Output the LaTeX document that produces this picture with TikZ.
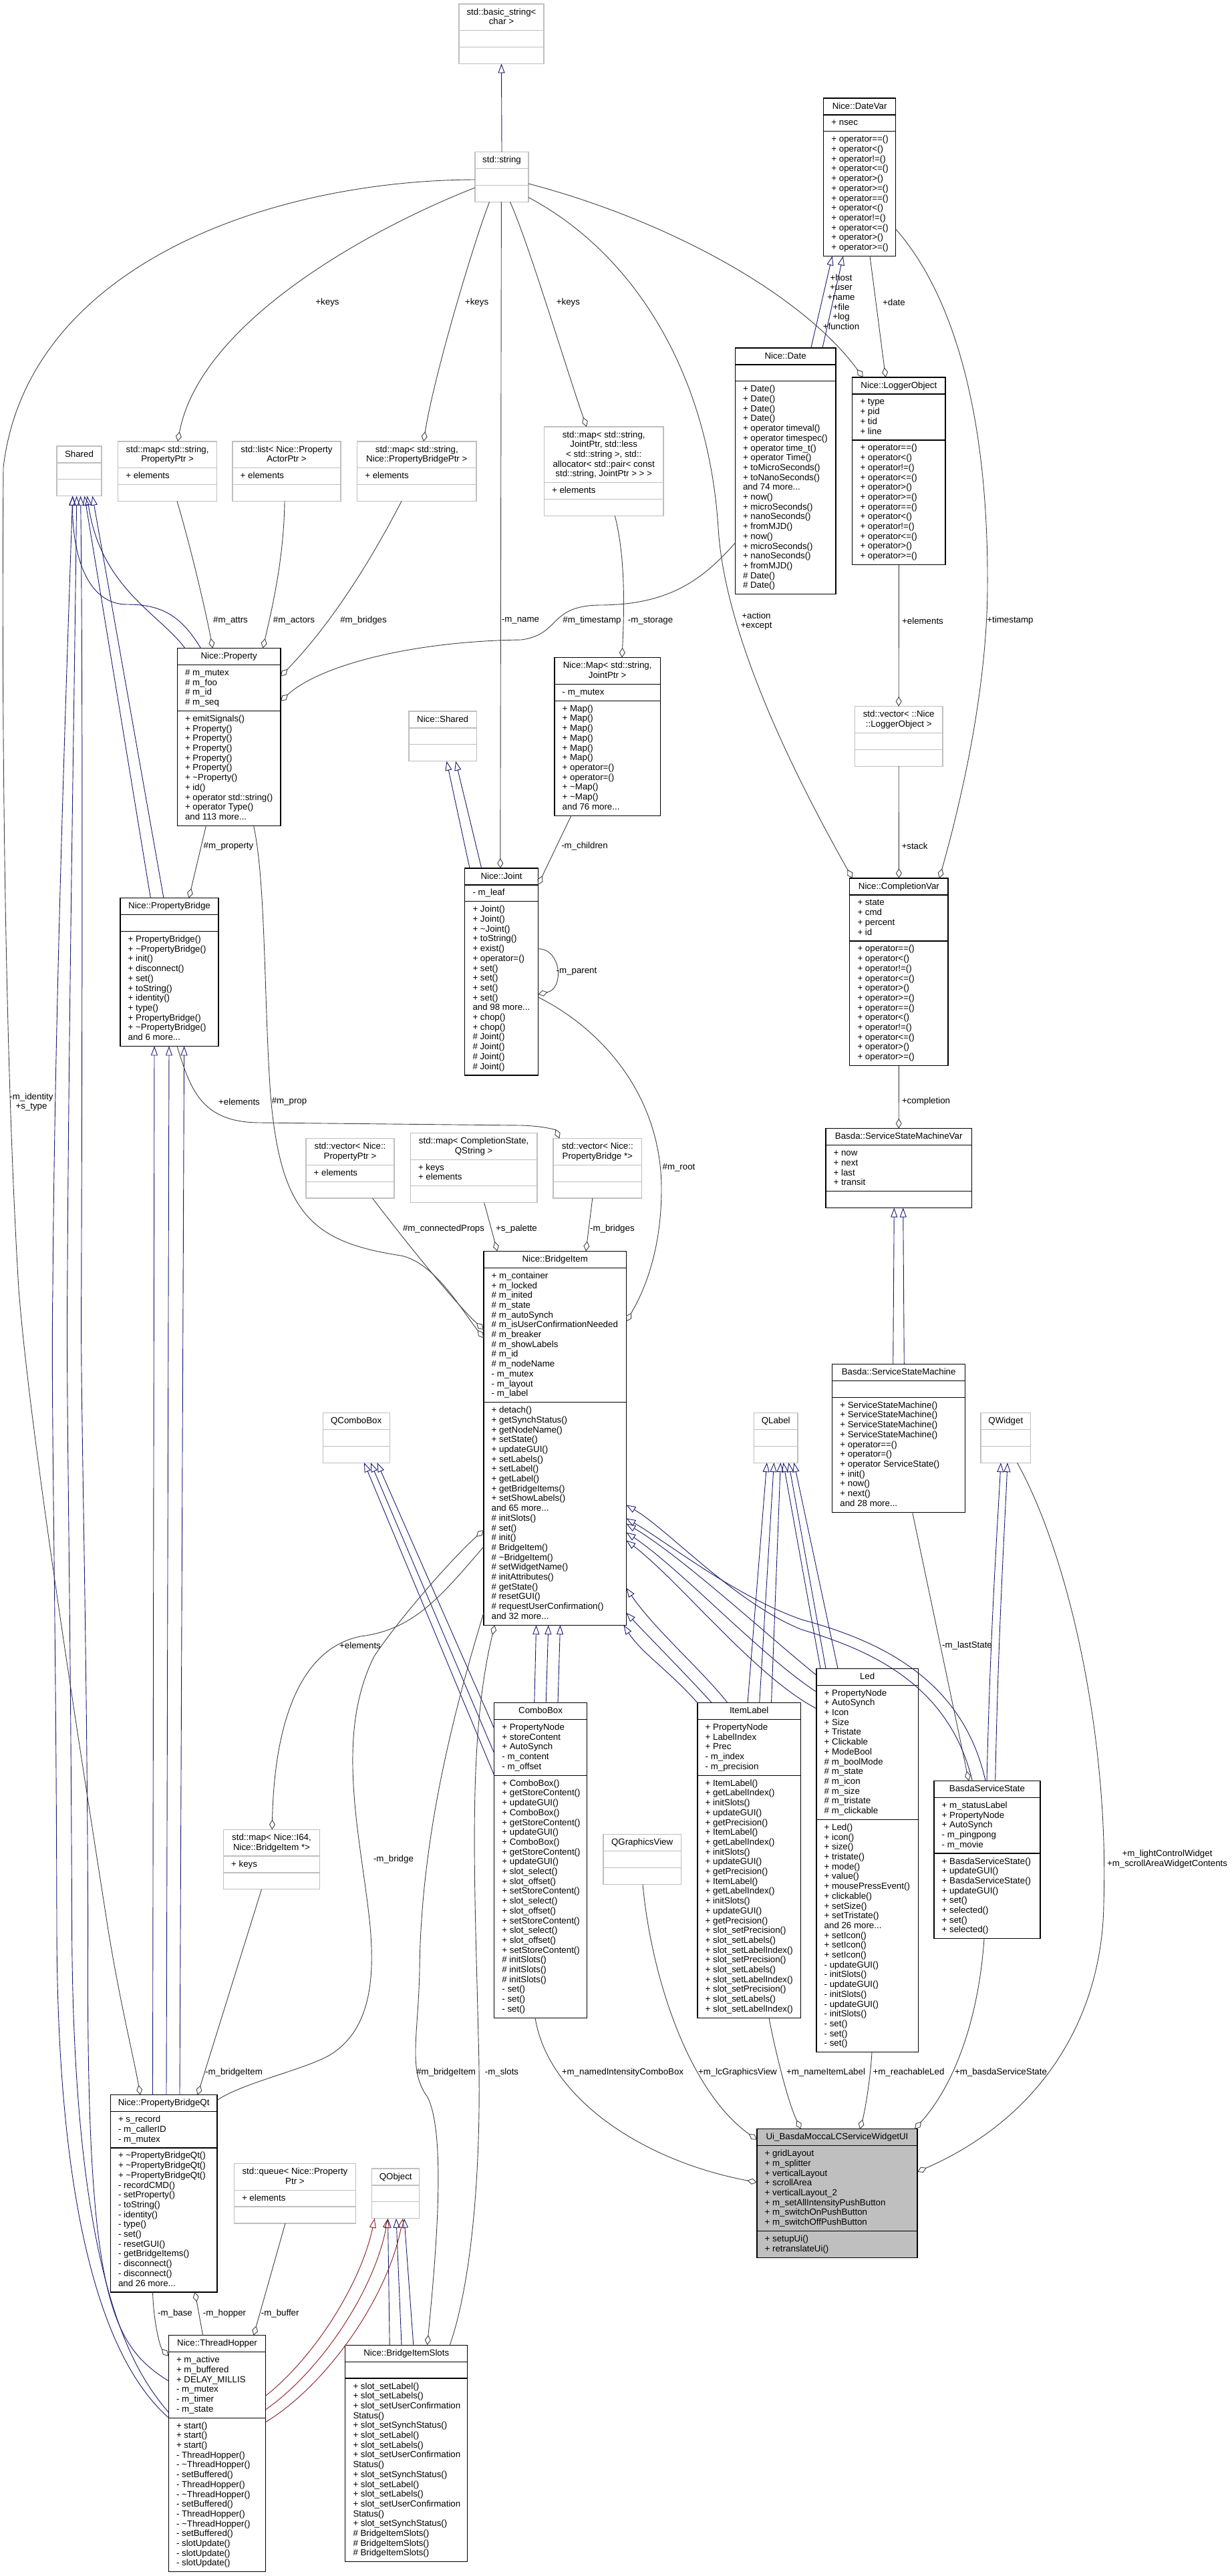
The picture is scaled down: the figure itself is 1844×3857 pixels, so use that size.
\documentclass[tikz,border=0pt]{standalone}
\usepackage{fontspec}
\setmainfont{Liberation Sans}
\usetikzlibrary{arrows.meta,calc}
\definecolor{navy}{HTML}{191970}
\definecolor{ugray}{HTML}{404040}
\definecolor{boxgray}{HTML}{BFBFBF}
\definecolor{pred}{HTML}{8B1A1A}
\newcommand\fs{\fontsize{13.3}{14.7}\selectfont}
\newcommand\tld{\textasciitilde}
\newcommand\mdots{...}
\def\getthree#1,#2,#3\relax{\def\cxa{#1}\def\cya{#2}\def\cxb{#3}}
\def\getcnt#1,#2,#3\relax{\def\cnt{#1}\def\cna{#2}\def\cnm{#3}}
\newcommand\clsbox[7]{%
  \getthree#3\relax\getcnt#4\relax
  \pgfmathsetmacro\cyA{\cya+14.7*\cnt+10.2}%
  \pgfmathsetmacro\cyM{\cyA+14.7*max(\cna,1)+10.2}%
  \pgfmathsetmacro\cyB{\cyM+14.7*max(\cnm,1)+10.2}%
  \pgfmathsetmacro\cbw{\cxb-\cxa}%
  \pgfmathsetmacro\cbh{\cyB-\cya}%
  \pgfmathsetmacro\cxc{(\cxa+\cxb)/2}%
  \pgfmathsetmacro\cxt{\cxa+11.5}%
  \node[#2,minimum width=\cbw pt,minimum height=\cbh pt,anchor=north west] (#1) at (\cxa,\cya) {};
  \draw[#2 sep] (\cxa,\cyA) -- (\cxb,\cyA) (\cxa,\cyM) -- (\cxb,\cyM);
  \foreach \tx [count=\k] in {#5} {\node[txt,anchor=base] at (\cxc,{\cya+16+14.7*(\k-1)}) {\tx};}
  \foreach \tx [count=\k] in {#6} {\node[txt,anchor=base west] at (\cxt,{\cyA+16+14.7*(\k-1)}) {\tx};}
  \foreach \tx [count=\k] in {#7} {\node[txt,anchor=base west] at (\cxt,{\cyM+16+14.7*(\k-1)}) {\tx};}
}
\tikzset{
  txt/.style={inner sep=0pt,font=\fs},
  lbl/.style={inner sep=0pt,font=\fs},
  gbox/.style={draw=boxgray,line width=1.2pt,fill=white,inner sep=0pt,outer sep=0pt},
  bbox/.style={draw=black,line width=1.2pt,fill=white,inner sep=0pt,outer sep=0pt},
  ubox/.style={draw=black,line width=1.2pt,fill=boxgray,inner sep=0pt,outer sep=0pt},
  gbox sep/.style={draw=boxgray,line width=1.2pt},
  bbox sep/.style={draw=black,line width=1.2pt},
  ubox sep/.style={draw=black,line width=1.2pt},
  inh/.style={draw=navy,line width=0.9pt,-{Triangle[open,length=14pt,width=10pt]}},
  pinh/.style={draw=pred,line width=0.9pt,-{Triangle[open,length=14pt,width=10pt]}},
  use/.style={draw=ugray,line width=0.9pt,-{Diamond[open,length=15pt,width=9pt]}}
}
\catcode`\_=12
\begin{document}
\begin{tikzpicture}[x=1pt,y=-1pt]
\fill[white] (0,0) rectangle (1844,3857);
\useasboundingbox (0,0) rectangle (1844,3857);

% ---------------- classes ----------------
\clsbox{bstr}{gbox}{687,6,814}{2,0,0}{{std::basic_string<},{char >}}{}{}
\clsbox{str}{gbox}{711,227.6,791}{1,0,0}{std::string}{}{}
\clsbox{datevar}{bbox}{1232.7,147,1340.6}{1,1,12}{Nice::DateVar}{+ nsec}{+ operator==(),+ operator<(),+ operator!=(),+ operator<=(),+ operator>(),+ operator>=(),+ operator==(),+ operator<(),+ operator!=(),+ operator<=(),+ operator>(),+ operator>=()}
\clsbox{date}{bbox}{1100.3,521,1251}{1,0,21}{Nice::Date}{}{+ Date(),+ Date(),+ Date(),+ Date(),+ operator timeval(),+ operator timespec(),+ operator time_t(),+ operator Time(),+ toMicroSeconds(),+ toNanoSeconds(),and 74 more\mdots,+ now(),+ microSeconds(),+ nanoSeconds(),+ fromMJD(),+ now(),+ microSeconds(),+ nanoSeconds(),+ fromMJD(),\# Date(),\# Date()}
\clsbox{logobj}{bbox}{1275.8,565,1415}{1,4,12}{Nice::LoggerObject}{+ type,+ pid,+ tid,+ line}{+ operator==(),+ operator<(),+ operator!=(),+ operator<=(),+ operator>(),+ operator>=(),+ operator==(),+ operator<(),+ operator!=(),+ operator<=(),+ operator>(),+ operator>=()}
\clsbox{mapJ}{gbox}{814.4,639,993}{5,1,0}{{std::map< std::string,},{JointPtr, std::less},{< std::string >, std::},{allocator< std::pair< const},{std::string, JointPtr > > >}}{+ elements}{}
\clsbox{mapPBP}{gbox}{534.6,661,713}{2,1,0}{{std::map< std::string,},{Nice::PropertyBridgePtr >}}{+ elements}{}
\clsbox{lst}{gbox}{348,661,510}{2,1,0}{{std::list< Nice::Property},{ActorPtr >}}{+ elements}{}
\clsbox{mapPP}{gbox}{176.7,661,324.6}{2,1,0}{{std::map< std::string,},{PropertyPtr >}}{+ elements}{}
\clsbox{shared}{gbox}{85,668,152}{1,0,0}{Shared}{}{}
\clsbox{prop}{bbox}{265.3,970.5,420}{1,4,11}{Nice::Property}{\# m_mutex,\# m_foo,\# m_id,\# m_seq}{+ emitSignals(),+ Property(),+ Property(),+ Property(),+ Property(),+ Property(),+ \tld Property(),+ id(),+ operator std::string(),+ operator Type(),and 113 more\mdots}
\clsbox{vecLO}{gbox}{1279.4,1057.7,1411}{2,0,0}{{std::vector< ::Nice},{::LoggerObject >}}{}{}
\clsbox{cvar}{bbox}{1271.8,1315,1419}{1,4,12}{Nice::CompletionVar}{+ state,+ cmd,+ percent,+ id}{+ operator==(),+ operator<(),+ operator!=(),+ operator<=(),+ operator>(),+ operator>=(),+ operator==(),+ operator<(),+ operator!=(),+ operator<=(),+ operator>(),+ operator>=()}
\clsbox{pbridge}{bbox}{180,1344.7,327}{1,0,11}{Nice::PropertyBridge}{}{+ PropertyBridge(),+ \tld PropertyBridge(),+ init(),+ disconnect(),+ set(),+ toString(),+ identity(),+ type(),+ PropertyBridge(),+ \tld PropertyBridge(),and 6 more\mdots}
\clsbox{nmap}{bbox}{830,984.7,988.4}{2,1,11}{{Nice::Map< std::string,},{JointPtr >}}{- m_mutex}{+ Map(),+ Map(),+ Map(),+ Map(),+ Map(),+ Map(),+ operator=(),+ operator=(),+ \tld Map(),+ \tld Map(),and 76 more\mdots}
\clsbox{nshared}{gbox}{612,1065,713.2}{1,0,0}{Nice::Shared}{}{}
\clsbox{joint}{bbox}{695.8,1300,805.3}{1,1,17}{Nice::Joint}{- m_leaf}{+ Joint(),+ Joint(),+ \tld Joint(),+ toString(),+ exist(),+ operator=(),+ set(),+ set(),+ set(),+ set(),and 98 more\mdots,+ chop(),+ chop(),\# Joint(),\# Joint(),\# Joint(),\# Joint()}
\clsbox{mapCS}{gbox}{614.3,1696.6,804}{2,2,0}{{std::map< CompletionState,},{QString >}}{+ keys,+ elements}{}
\clsbox{vecPB}{gbox}{828,1704.6,960.7}{2,0,0}{{std::vector< Nice::},{PropertyBridge *>}}{}{}
\clsbox{vecPP}{gbox}{458,1704.6,590}{2,1,0}{{std::vector< Nice::},{PropertyPtr >}}{+ elements}{}
\clsbox{ssmv}{bbox}{1235.9,1689.7,1454.5}{1,4,0}{Basda::ServiceStateMachineVar}{+ now,+ next,+ last,+ transit}{}
\clsbox{bitem}{bbox}{724,1873.4,937.4}{1,13,22}{Nice::BridgeItem}{+ m_container,+ m_locked,\# m_inited,\# m_state,\# m_autoSynch,\# m_isUserConfirmationNeeded,\# m_breaker,\# m_showLabels,\# m_id,\# m_nodeName,- m_mutex,- m_layout,- m_label}{+ detach(),+ getSynchStatus(),+ getNodeName(),+ setState(),+ updateGUI(),+ setLabels(),+ setLabel(),+ getLabel(),+ getBridgeItems(),+ setShowLabels(),and 65 more\mdots,\# initSlots(),\# set(),\# init(),\# BridgeItem(),\# \tld BridgeItem(),\# setWidgetName(),\# initAttributes(),\# getState(),\# resetGUI(),\# requestUserConfirmation(),and 32 more\mdots}
\clsbox{ssm}{bbox}{1245.7,2042.4,1444.6}{1,0,11}{Basda::ServiceStateMachine}{}{+ ServiceStateMachine(),+ ServiceStateMachine(),+ ServiceStateMachine(),+ ServiceStateMachine(),+ operator==(),+ operator=(),+ operator ServiceState(),+ init(),+ now(),+ next(),and 28 more\mdots}
\clsbox{qwidget}{gbox}{1468,2115.4,1542.7}{1,0,0}{QWidget}{}{}
\clsbox{qlabel}{gbox}{1128.4,2115.4,1194}{1,0,0}{QLabel}{}{}
\clsbox{qcombo}{gbox}{483.2,2115.4,583.2}{1,0,0}{QComboBox}{}{}
\clsbox{combo}{bbox}{739.7,2549.6,878.5}{1,5,24}{ComboBox}{+ PropertyNode,+ storeContent,+ AutoSynch,- m_content,- m_offset}{+ ComboBox(),+ getStoreContent(),+ updateGUI(),+ ComboBox(),+ getStoreContent(),+ updateGUI(),+ ComboBox(),+ getStoreContent(),+ updateGUI(),+ slot_select(),+ slot_offset(),+ setStoreContent(),+ slot_select(),+ slot_offset(),+ setStoreContent(),+ slot_select(),+ slot_offset(),+ setStoreContent(),\# initSlots(),\# initSlots(),\# initSlots(),- set(),- set(),- set()}
\clsbox{ilabel}{bbox}{1044,2549.6,1198.4}{1,5,24}{ItemLabel}{+ PropertyNode,+ LabelIndex,+ Prec,- m_index,- m_precision}{+ ItemLabel(),+ getLabelIndex(),+ initSlots(),+ updateGUI(),+ getPrecision(),+ ItemLabel(),+ getLabelIndex(),+ initSlots(),+ updateGUI(),+ getPrecision(),+ ItemLabel(),+ getLabelIndex(),+ initSlots(),+ updateGUI(),+ getPrecision(),+ slot_setPrecision(),+ slot_setLabels(),+ slot_setLabelIndex(),+ slot_setPrecision(),+ slot_setLabels(),+ slot_setLabelIndex(),+ slot_setPrecision(),+ slot_setLabels(),+ slot_setLabelIndex()}
\clsbox{led}{bbox}{1222,2498.2,1374.3}{1,13,23}{Led}{+ PropertyNode,+ AutoSynch,+ Icon,+ Size,+ Tristate,+ Clickable,+ ModeBool,\# m_boolMode,\# m_state,\# m_icon,\# m_size,\# m_tristate,\# m_clickable}{+ Led(),+ icon(),+ size(),+ tristate(),+ mode(),+ value(),+ mousePressEvent(),+ clickable(),+ setSize(),+ setTristate(),and 26 more\mdots,+ setIcon(),+ setIcon(),+ setIcon(),- updateGUI(),- initSlots(),- updateGUI(),- initSlots(),- updateGUI(),- initSlots(),- set(),- set(),- set()}
\clsbox{bss}{bbox}{1398,2666.4,1557}{1,5,8}{BasdaServiceState}{+ m_statusLabel,+ PropertyNode,+ AutoSynch,- m_pingpong,- m_movie}{+ BasdaServiceState(),+ updateGUI(),+ BasdaServiceState(),+ updateGUI(),+ set(),+ selected(),+ set(),+ selected()}
\clsbox{qgv}{gbox}{903,2746.8,1019.3}{1,0,0}{QGraphicsView}{}{}
\clsbox{mapI64}{gbox}{334.5,2739.4,478.5}{2,1,0}{{std::map< Nice::I64,},{Nice::BridgeItem *>}}{+ keys}{}
\clsbox{pbqt}{bbox}{165.3,3136.7,325}{1,3,14}{Nice::PropertyBridgeQt}{+ s_record,- m_callerID,- m_mutex}{+ \tld PropertyBridgeQt(),+ \tld PropertyBridgeQt(),+ \tld PropertyBridgeQt(),- recordCMD(),- setProperty(),- toString(),- identity(),- type(),- set(),- resetGUI(),- getBridgeItems(),- disconnect(),- disconnect(),and 26 more\mdots}
\clsbox{queue}{gbox}{350.3,3239.5,532.6}{2,1,0}{{std::queue< Nice::Property},{Ptr >}}{+ elements}{}
\clsbox{qobject}{gbox}{556.7,3247,627.8}{1,0,0}{QObject}{}{}
\clsbox{thop}{bbox}{252.3,3496.8,397.8}{1,6,15}{Nice::ThreadHopper}{+ m_active,+ m_buffered,+ DELAY_MILLIS,- m_mutex,- m_timer,- m_state}{+ start(),+ start(),+ start(),- ThreadHopper(),- \tld ThreadHopper(),- setBuffered(),- ThreadHopper(),- \tld ThreadHopper(),- setBuffered(),- ThreadHopper(),- \tld ThreadHopper(),- setBuffered(),- slotUpdate(),- slotUpdate(),- slotUpdate()}
\clsbox{bis}{bbox}{516.8,3511.2,699.8}{1,0,18}{Nice::BridgeItemSlots}{}{+ slot_setLabel(),+ slot_setLabels(),+ slot_setUserConfirmation,Status(),+ slot_setSynchStatus(),+ slot_setLabel(),+ slot_setLabels(),+ slot_setUserConfirmation,Status(),+ slot_setSynchStatus(),+ slot_setLabel(),+ slot_setLabels(),+ slot_setUserConfirmation,Status(),+ slot_setSynchStatus(),\# BridgeItemSlots(),\# BridgeItemSlots(),\# BridgeItemSlots()}
\clsbox{ui}{ubox}{1133,3187.8,1373}{1,8,2}{Ui_BasdaMoccaLCServiceWidgetUI}{+ gridLayout,+ m_splitter,+ verticalLayout,+ scrollArea,+ verticalLayout_2,+ m_setAllIntensityPushButton,+ m_switchOnPushButton,+ m_switchOffPushButton}{+ setupUi(),+ retranslateUi()}

% ---------------- inheritance ----------------
\draw[inh] (str.north) -- (bstr.south);
\draw[inh] ([shift={(113.5,0)}]date.north west) -- ([shift={(13,0)}]datevar.south west);
\draw[inh] ([shift={(130.7,0)}]date.north west) -- ([shift={(29.3,0)}]datevar.south west);
\draw[inh] ([shift={(91,0)}]ssm.north west) -- ([shift={(102.4,0)}]ssmv.south west);
\draw[inh] ([shift={(107.6,0)}]ssm.north west) -- ([shift={(115.8,0)}]ssmv.south west);
\draw[inh] ([shift={(79,0)}]bss.north west) .. controls (1482,2450) and (1492,2300) .. ([shift={(30,0)}]qwidget.south west);
\draw[inh] ([shift={(91.7,0)}]bss.north west) .. controls (1494,2450) and (1503,2300) .. ([shift={(40,0)}]qwidget.south west);
\foreach \p/\q in {60.1/78.6,77.5/96.8,95.3/114.5} \draw[inh] ([shift={(\p,0)}]combo.north west) -- ([shift={(\q,0)}]bitem.south west);
\foreach \p/\q in {38.4/81.4,75.4/71.6,108.4/61.8} \draw[inh] ([shift={(0,\p)}]combo.north west) -- ([shift={(\q,0)}]qcombo.south west);
\foreach \p/\q in {75/19.4,92.7/30,110.5/39.9} \draw[inh] ([shift={(\p,0)}]ilabel.north west) -- ([shift={(\q,0)}]qlabel.south west);
\foreach \p/\q in {6/44,14/52,32/60} \draw[inh] ([shift={(\p,0)}]led.north west) -- ([shift={(\q,0)}]qlabel.south west);
\draw[inh] ([shift={(45,0)}]ilabel.north west) .. controls (1050,2500) and (980,2440) .. ([shift={(0,504.2)}]bitem.north east);
\draw[inh] ([shift={(21.5,0)}]ilabel.north west) .. controls (1020,2500) and (975,2455) .. ([shift={(0,541.3)}]bitem.north east);
\draw[inh] (ilabel.north west) .. controls (1000,2500) and (960,2475) .. ([shift={(-4,0)}]bitem.south east);
\draw[inh] ([shift={(57.3,0)}]bss.north west) .. controls (1420,2520) and (1300,2470) .. (1200,2440) .. controls (1100,2400) and (1000,2290) .. ([shift={(0,380)}]bitem.north east);
\draw[inh] ([shift={(77,0)}]bss.north west) .. controls (1440,2510) and (1310,2455) .. (1200,2425) .. controls (1100,2390) and (1000,2310) .. ([shift={(0,400)}]bitem.north east);
\draw[inh] ([shift={(0,10)}]led.north west) .. controls (1150,2450) and (1020,2330) .. ([shift={(0,408)}]bitem.north east);
\draw[inh] ([shift={(0,35)}]led.north west) .. controls (1140,2480) and (1020,2350) .. ([shift={(0,421)}]bitem.north east);
\draw[inh] ([shift={(0,60)}]led.north west) .. controls (1130,2510) and (1020,2370) .. ([shift={(0,433)}]bitem.north east);
\draw[inh] ([shift={(45.4,0)}]pbridge.north west) -- ([shift={(41.5,0)}]shared.south west);
\draw[inh] ([shift={(65,0)}]pbridge.north west) -- ([shift={(53.4,0)}]shared.south west);
\draw[inh] ([shift={(35.2,0)}]prop.north west) .. controls (270,920) and (240,905) .. (190,905) .. controls (130,905) and (108,830) .. ([shift={(23.7,0)}]shared.south west);
\draw[inh] ([shift={(11.5,0)}]prop.north west) .. controls (240,920) and (150,880) .. ([shift={(45.5,0)}]shared.south west);
\draw[inh] ([shift={(0,123.2)}]thop.north west) .. controls (185,3560) and (85,3400) .. (85,2880) .. controls (84,2400) and (76,2100) .. (79,1930) .. controls (82,1500) and (100,1000) .. ([shift={(23.7,0)}]shared.south west);
\draw[inh] ([shift={(0,115.2)}]thop.north west) .. controls (200,3550) and (110,3420) .. (107.6,2890) .. controls (106,2400) and (99,2100) .. (100.8,1930) .. controls (103,1500) and (112,1000) .. ([shift={(29.7,0)}]shared.south west);
\draw[inh] ([shift={(0,68.2)}]thop.north west) .. controls (165,3510) and (128,3440) .. (131.7,2890) .. controls (130,2400) and (120,2100) .. (121.8,1930) .. controls (123,1500) and (124,1000) .. ([shift={(35.6,0)}]shared.south west);
\foreach \p/\q in {63.2/51,83.7/73,103.7/95.6} \draw[inh] ([shift={(\p,0)}]pbqt.north west) -- ([shift={(\q,0)}]pbridge.south west);
\draw[inh] ([shift={(7.2,0)}]joint.north west) -- ([shift={(56.5,0)}]nshared.south west);
\draw[inh] ([shift={(24.9,0)}]joint.north west) -- ([shift={(70,0)}]nshared.south west);
\foreach \p/\q in {66.4/23.8,84.2/36.3,102/48.3} \draw[inh] ([shift={(\p,0)}]bis.north west) -- ([shift={(\q,0)}]qobject.south west);
\draw[pinh] ([shift={(0,90.2)}]thop.north east) .. controls (470,3530) and (540,3420) .. ([shift={(4,0)}]qobject.south west);
\draw[pinh] ([shift={(0,110.9)}]thop.north east) .. controls (480,3550) and (560,3430) .. ([shift={(23.8,0)}]qobject.south west);
\draw[pinh] ([shift={(0,129.6)}]thop.north east) .. controls (490,3570) and (580,3440) .. ([shift={(46.3,0)}]qobject.south west);

% ---------------- usage ----------------
\draw[use] ([shift={(0,53.4)}]str.north west) .. controls (560,340) and (300,480) .. ([shift={(89.3,0)}]mapPP.north west);
\draw[use] ([shift={(0,41.4)}]str.north west) .. controls (400,270) and (40,400) .. (5,700) .. controls (2,1100) and (8,1600) .. (28,1930) .. controls (45,2150) and (120,2620) .. (162,2890) .. controls (180,3000) and (200,3080) .. ([shift={(44.7,0)}]pbqt.north west);
\draw[use] ([shift={(21.6,0)}]str.south west) .. controls (710,360) and (650,560) .. ([shift={(99.4,0)}]mapPBP.north west);
\draw[use] ([shift={(39.4,0)}]str.south west) -- ([shift={(53,0)}]joint.north west);
\draw[use] ([shift={(52.4,0)}]str.south west) .. controls (790,360) and (850,560) .. ([shift={(63.6,0)}]mapJ.north west);
\draw[use] ([shift={(80,68)}]str.north west) .. controls (950,380) and (1060,560) .. (1075,790) .. controls (1085,960) and (1200,1180) .. ([shift={(4,0)}]cvar.north west);
\draw[use] ([shift={(80,47.4)}]str.north west) .. controls (1000,330) and (1200,440) .. ([shift={(16,0)}]logobj.north west);
\draw[use] ([shift={(69.3,0)}]datevar.south west) -- ([shift={(49.8,0)}]logobj.north west);
\draw[use] ([shift={(107.9,196)}]datevar.north west) .. controls (1400,410) and (1480,560) .. (1478,880) .. controls (1477,1050) and (1430,1230) .. ([shift={(134.2,0)}]cvar.north west);
\draw[use] (logobj.south) -- (vecLO.north);
\draw[use] (vecLO.south) -- (cvar.north);
\draw[use] (cvar.south) -- (ssmv.north);
\draw[use] ([shift={(119.9,0)}]ssm.south west) -- ([shift={(52,0)}]bss.north west);
\draw[use] ([shift={(54.5,0)}]qwidget.south west) .. controls (1600,2330) and (1660,2600) .. (1652,2850) .. controls (1650,3020) and (1560,3170) .. ([shift={(0,64)}]ui.north east);
\draw[use] ([shift={(75,0)}]bss.south west) .. controls (1465,3020) and (1430,3120) .. ([shift={(-4,0)}]ui.north east);
\draw[use] ([shift={(83,0)}]led.south west) .. controls (1303,3110) and (1295,3160) .. ([shift={(154,0)}]ui.north west);
\draw[use] ([shift={(107,0)}]ilabel.south west) .. controls (1160,3070) and (1180,3150) .. ([shift={(66,0)}]ui.north west);
\draw[use] ([shift={(59,0)}]qgv.south west) .. controls (975,2960) and (1030,3130) .. ([shift={(0,16)}]ui.north west);
\draw[use] ([shift={(61.3,0)}]combo.south west) .. controls (820,3140) and (960,3235) .. ([shift={(0,79.8)}]ui.north west);
\draw[use] ([shift={(85,0)}]pbridge.south west) .. controls (285,1630) and (300,1681) .. (390,1681) -- (780,1685) .. controls (815,1686) and (832,1692) .. ([shift={(9.4,0)}]vecPB.north west);
\draw[use] ([shift={(58.8,0)}]vecPB.south west) -- ([shift={(153,0)}]bitem.north west);
\draw[use] ([shift={(110.4,0)}]mapCS.south west) -- ([shift={(20.4,0)}]bitem.north west);
\draw[use] ([shift={(99.5,0)}]vecPP.south west) .. controls (600,1850) and (680,1950) .. ([shift={(0,117.6)}]bitem.north west);
\draw[use] ([shift={(114.3,0)}]prop.south west) .. controls (398,1320) and (395,1500) .. (405,1640) .. controls (420,1820) and (470,1860) .. (600,1880) .. controls (650,1890) and (690,1960) .. ([shift={(0,130.1)}]bitem.north west);
\draw[use] ([shift={(0,193)}]joint.north east) .. controls (900,1540) and (990,1640) .. (990,1780) .. controls (990,1880) and (960,1940) .. ([shift={(0,105.3)}]bitem.north east);
\draw[use] ([shift={(0,120.7)}]joint.north east) .. controls (840,1420) and (845,1480) .. ([shift={(0,188.8)}]joint.north east);
\draw[use] ([shift={(25,0)}]nmap.south west) -- ([shift={(0,25)}]joint.north east);
\draw[use] ([shift={(106,0)}]mapJ.south west) .. controls (935,830) and (935,900) .. ([shift={(101,0)}]nmap.north west);
\draw[use] ([shift={(0,292)}]date.north west) .. controls (1050,870) and (1000,905) .. (900,906) .. controls (820,906) and (840,950) .. (780,958) .. controls (620,960) and (480,995) .. ([shift={(0,79.2)}]prop.north east);
\draw[use] ([shift={(66.4,0)}]mapPBP.south west) .. controls (560,830) and (500,930) .. ([shift={(0,42.1)}]prop.north east);
\draw[use] ([shift={(78,0)}]lst.south west) .. controls (425,830) and (410,900) .. ([shift={(128.1,0)}]prop.north west);
\draw[use] ([shift={(88.3,0)}]mapPP.south west) .. controls (280,800) and (305,900) .. ([shift={(53,0)}]prop.north west);
\draw[use] ([shift={(43.1,0)}]prop.south west) -- ([shift={(102.7,0)}]pbridge.north west);
\draw[use] ([shift={(63.2,0)}]pbqt.south west) .. controls (230,3480) and (240,3515) .. ([shift={(0,31)}]thop.north west);
\draw[use] ([shift={(51.4,0)}]thop.north west) -- ([shift={(126.5,0)}]pbqt.south west);
\draw[use] ([shift={(76.7,0)}]queue.south west) -- ([shift={(127.3,0)}]thop.north west);
\draw[use] ([shift={(0,541.3)}]bitem.north west) .. controls (680,2560) and (630,2750) .. (628,2950) .. controls (626,3050) and (610,3100) .. (640,3140) .. controls (670,3200) and (650,3400) .. ([shift={(122.8,0)}]bis.north west);
\draw[use] ([shift={(156.5,0)}]bis.north west) .. controls (705,3420) and (722,3250) .. (716,3050) .. controls (710,2800) and (700,2600) .. ([shift={(16.5,0)}]bitem.south west);
\draw[use] ([shift={(0,442.4)}]bitem.north west) .. controls (660,2390) and (620,2440) .. (540,2450) .. controls (440,2470) and (410,2600) .. ([shift={(72.8,0)}]mapI64.north west);
\draw[use] ([shift={(0,8)}]pbqt.north east) .. controls (360,3120) and (450,3100) .. (490,3079) .. controls (560,3040) and (560,2950) .. (553.6,2880) .. controls (540,2750) and (500,2600) .. (560,2480) .. controls (600,2420) and (680,2330) .. ([shift={(0,417.6)}]bitem.north west);
\draw[use] ([shift={(57,0)}]mapI64.south west) -- ([shift={(130.4,0)}]pbqt.north west);

% ---------------- labels ----------------
\node[lbl] (lk1) at (490,452.7) {+keys};
\node[lbl] (lk2) at (713.6,452.7) {+keys};
\node[lbl] (lk3) at (850.4,452.7) {+keys};
\node[lbl,align=center] (lid) at (47,1650) {-m_identity\\+s_type};
\node[lbl] (lname) at (779,929.5) {-m_name};
\node[lbl,align=center] (lact) at (1132,930) {+action\\+except};
\node[lbl,align=center] (lhost) at (1259,452) {+host\\+user\\+name\\+file\\+log\\+function};
\node[lbl] (ldate) at (1338,452.7) {+date};
\node[lbl] (lts) at (1512,929.5) {+timestamp};
\node[lbl] (lel1) at (1381,929.5) {+elements};
\node[lbl] (lstack) at (1369,1267) {+stack};
\node[lbl] (lcomp) at (1386,1649.5) {+completion};
\node[lbl] (llast) at (1447.5,2464) {-m_lastState};
\node[lbl,align=center] (llight) at (1747,2783.6) {+m_lightControlWidget\\+m_scrollAreaWidgetContents};
\node[lbl] (lbss) at (1498,3103) {+m_basdaServiceState};
\node[lbl] (lled) at (1360,3103) {+m_reachableLed};
\node[lbl] (lnil) at (1236,3103) {+m_nameItemLabel};
\node[lbl] (lgv) at (1104,3103) {+m_lcGraphicsView};
\node[lbl] (lcb) at (932,3103) {+m_namedIntensityComboBox};
\node[lbl] (lel2) at (358,1649.5) {+elements};
\node[lbl] (lbr) at (916.4,1840) {-m_bridges};
\node[lbl] (lpal) at (773,1840) {+s_palette};
\node[lbl] (lcp) at (664,1840) {\#m_connectedProps};
\node[lbl] (lprop) at (433,1649.5) {\#m_prop};
\node[lbl] (lroot) at (1016,1748.5) {\#m_root};
\node[lbl] (lpar) at (863,1454.7) {-m_parent};
\node[lbl] (lchi) at (875,1267) {-m_children};
\node[lbl] (lsto) at (973.6,929.5) {-m_storage};
\node[lbl] (ltst) at (886,929.5) {\#m_timestamp};
\node[lbl] (lbrs) at (544,929.5) {\#m_bridges};
\node[lbl] (lact2) at (440,929.5) {\#m_actors};
\node[lbl] (latt) at (345,929.5) {\#m_attrs};
\node[lbl] (lpr) at (342,1267) {\#m_property};
\node[lbl] (lbase) at (262,3463.8) {-m_base};
\node[lbl] (lhop) at (336,3463.8) {-m_hopper};
\node[lbl] (lbuf) at (419.2,3463.8) {-m_buffer};
\node[lbl] (lbi) at (667.7,3103) {\#m_bridgeItem};
\node[lbl] (lslots) at (751,3103) {-m_slots};
\node[lbl] (lel3) at (539,2464) {+elements};
\node[lbl] (lbrg) at (589,2784) {-m_bridge};
\node[lbl] (lbi2) at (350,3103) {-m_bridgeItem};
\end{tikzpicture}
\end{document}
